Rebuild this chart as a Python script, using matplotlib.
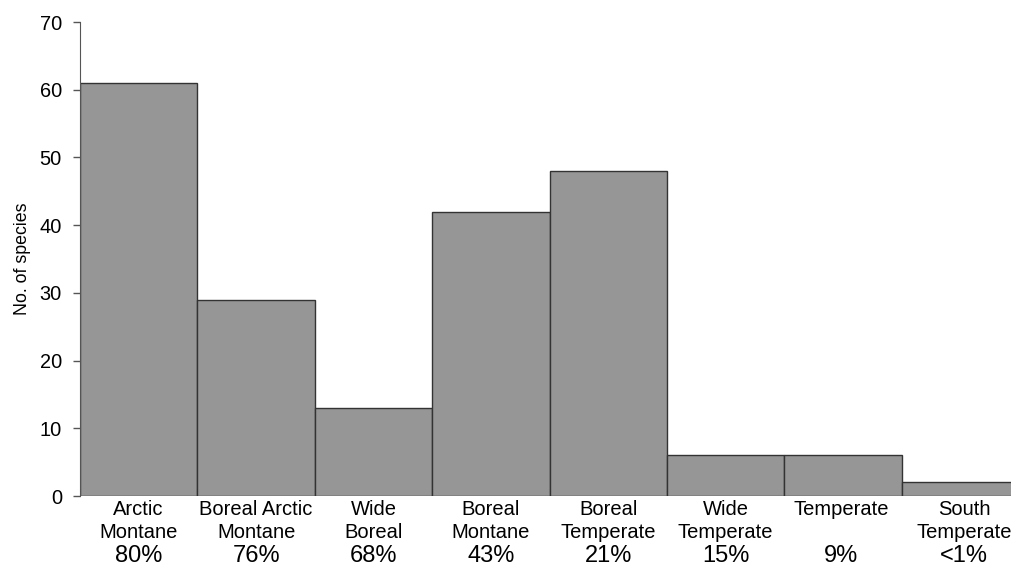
import matplotlib
matplotlib.use("Agg")
import matplotlib.pyplot as plt

categories = ["Arctic\nMontane", "Boreal Arctic\nMontane", "Wide\nBoreal", "Boreal\nMontane",
              "Boreal\nTemperate", "Wide\nTemperate", "Temperate\n", "South\nTemperate"]
percentages = ["80%", "76%", "68%", "43%", "21%", "15%", "9%", "<1%"]
species = [61, 29, 13, 42, 48, 6, 6, 2]

plt.rcParams['font.family'] = ['Liberation Sans', 'DejaVu Sans']

fig = plt.figure(figsize=(10.11, 5.68), dpi=100)
W, H = 1011, 568
bar_w_px = 117.4
ax = fig.add_axes([80 / W, 72 / H, 8 * bar_w_px / W, 474 / H])

x = list(range(len(species)))
ax.bar(x, species, width=1.0, color="#969696", edgecolor="#333333", linewidth=1.0)
ax.set_xlim(-0.5, len(species) - 0.5)
ax.set_ylim(0, 70)
ax.set_yticks(range(0, 71, 10))
ax.tick_params(axis='y', labelsize=14.4, length=5, width=1, color="#555555", pad=8)
ax.set_xticks([])
for s in ["top", "right", "bottom"]:
    ax.spines[s].set_visible(False)
ax.spines["left"].set_color("#555555")
ax.set_ylabel("No. of species", fontsize=12.8, labelpad=6)

x_offsets = [0, 0, 0, 0, 0, 0, -0.02, 0.03]
line_offsets_pt = [-9.5, -26.5]
for i, (c, p) in enumerate(zip(categories, percentages)):
    lines = c.split("\n")
    for ln, off in zip(lines, line_offsets_pt):
        if ln:
            ax.annotate(ln, xy=(i + x_offsets[i], 0), xycoords=('data', 'axes fraction'),
                        xytext=(0, off), textcoords='offset points', ha='center', va='center',
                        fontsize=14.5, annotation_clip=False)
    ax.annotate(p, xy=(i + x_offsets[i], 0), xycoords=('data', 'axes fraction'),
                xytext=(0, -47.3), textcoords='offset points', ha='center', va='baseline',
                fontsize=17, annotation_clip=False)

fig.savefig("out.png", dpi=100)
